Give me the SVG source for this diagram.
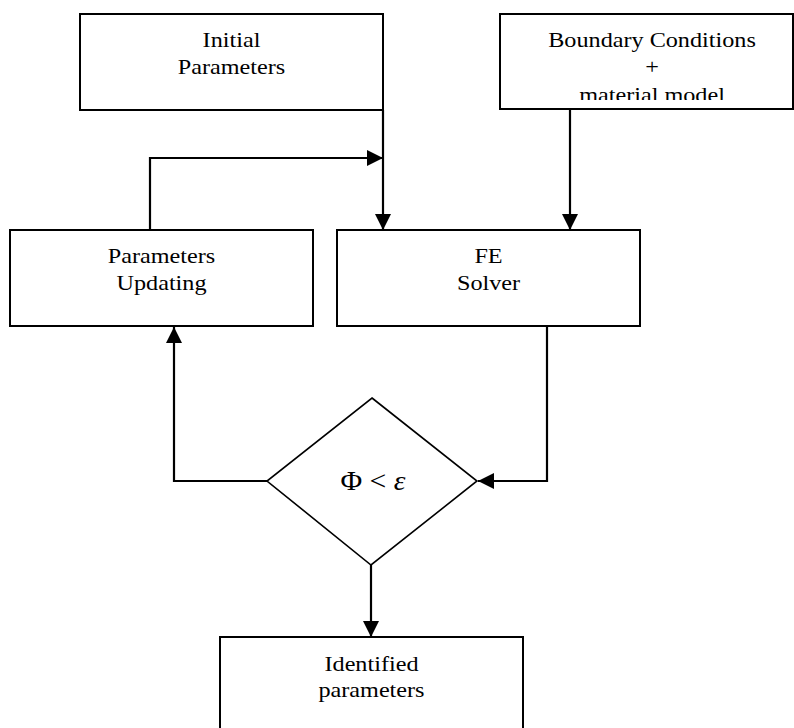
<svg xmlns="http://www.w3.org/2000/svg" width="794" height="728" viewBox="0 0 794 728">
<defs>
<style>
.box{fill:#fff;stroke:#000;stroke-width:2}
.dia{fill:#fff;stroke:#000;stroke-width:1.6}
.con{fill:none;stroke:#000;stroke-width:2.2}
.t{font-family:"Liberation Serif","Times New Roman",serif;font-size:22px;fill:#000;text-anchor:middle}
.m{font-family:"Liberation Serif","Times New Roman",serif;font-size:27px;fill:#000;text-anchor:middle}
</style>
<marker id="ah" viewBox="0 0 16 16" refX="16" refY="8" markerWidth="16" markerHeight="16" markerUnits="userSpaceOnUse" orient="auto">
<path d="M0,0 L16,8 L0,16 Z" fill="#000"/>
</marker>
<clipPath id="bclip" clipPathUnits="userSpaceOnUse"><rect x="500" y="14" width="294" height="86"/></clipPath>
</defs>
<rect width="794" height="728" fill="#fff"/>
<g id="connectors">
<path class="con" d="M383,110 V230" marker-end="url(#ah)"/>
<path class="con" d="M150,230 V158 H383" marker-end="url(#ah)"/>
<path class="con" d="M570,109 V230" marker-end="url(#ah)"/>
<path class="con" d="M547,327 V481 H478" marker-end="url(#ah)"/>
<path class="con" d="M267,481 H174 V327" marker-end="url(#ah)"/>
<path class="con" d="M371,565 V637" marker-end="url(#ah)"/>
</g>
<g id="initial">
<rect class="box" x="80" y="14" width="303" height="96"/>
<g transform="translate(231.5,0) scale(1.1,1)"><text class="t" x="0" y="47">Initial</text><text class="t" x="0" y="74.5">Parameters</text></g>
</g>
<g id="boundary">
<rect class="box" x="500" y="14" width="293" height="95"/>
<g clip-path="url(#bclip)"><g transform="translate(652,0) scale(1.1,1)"><text class="t" x="0" y="47">Boundary Conditions</text><text class="t" x="0" y="74">+</text><text class="t" x="0" y="102">material model</text></g></g>
</g>
<g id="updating">
<rect class="box" x="10" y="230" width="303" height="96"/>
<g transform="translate(161.5,0) scale(1.1,1)"><text class="t" x="0" y="263">Parameters</text><text class="t" x="0" y="290">Updating</text></g>
</g>
<g id="solver">
<rect class="box" x="337" y="230" width="303" height="96"/>
<g transform="translate(488.5,0) scale(1.1,1)"><text class="t" x="0" y="263">FE</text><text class="t" x="0" y="290">Solver</text></g>
</g>
<g id="decision">
<polygon class="dia" points="372,398 477,481 371,565 267,481"/>
<g transform="translate(373,0) scale(1.1,1)"><text class="m" x="0" y="490">Φ &lt; <tspan font-style="italic">ε</tspan></text></g>
</g>
<g id="identified">
<rect class="box" x="220" y="637" width="303" height="100"/>
<g transform="translate(371.5,0) scale(1.1,1)"><text class="t" x="0" y="671">Identified</text><text class="t" x="0" y="697">parameters</text></g>
</g>
</svg>
